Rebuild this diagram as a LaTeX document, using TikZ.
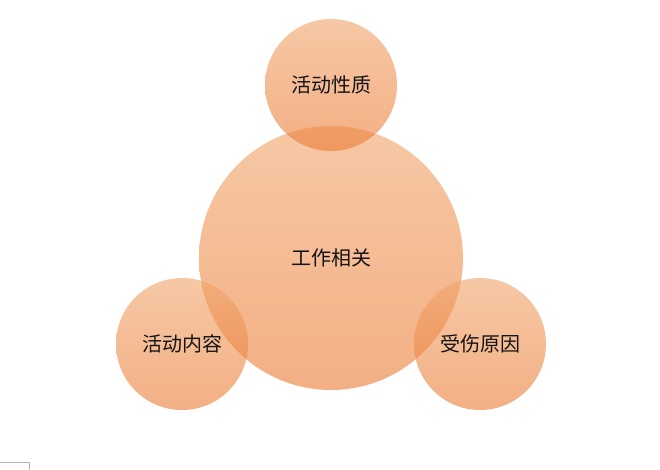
\documentclass[tikz,border=0pt]{standalone}
\usepackage{fontspec}
\newfontfamily\cjk{Noto Sans CJK SC}
\definecolor{ctop}{RGB}{240,163,105}
\definecolor{cbot}{RGB}{235,122,50}
\definecolor{txt}{RGB}{20,20,20}
\begin{document}
\begin{tikzpicture}[x=1pt,y=-1pt,
  bubble/.style={circle,inner sep=0pt,top color=ctop,bottom color=cbot,fill opacity=0.6,text opacity=1,draw=none,
    font=\cjk\fontsize{20}{23}\selectfont,text=txt}]
\useasboundingbox (0,0) rectangle (660,470);
\node[bubble,minimum size=264pt] (center) at (331,258) {工作相关};
\node[bubble,minimum size=132pt] (top) at (331,85) {活动性质};
\node[bubble,minimum size=132pt] (left) at (182,344) {活动内容};
\node[bubble,minimum size=132pt] (right) at (480,344) {受伤原因};
\draw[gray!60,line width=0.6pt] (0,462.5) -- (29.5,462.5) -- (29.5,470);
\end{tikzpicture}
\end{document}
